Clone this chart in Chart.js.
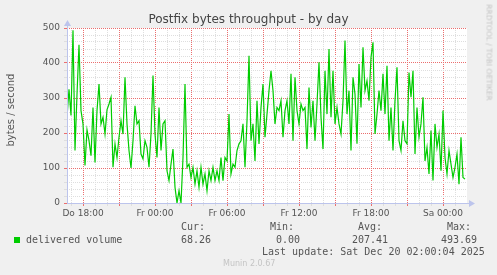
<!DOCTYPE html>
<html><head><meta charset="utf-8">
<script src="https://cdn.jsdelivr.net/npm/chart.js@4/dist/chart.umd.min.js"></script>
<style>
html,body{margin:0;padding:0;background:#F0F0F0;width:497px;height:275px;overflow:hidden}
#wrap{position:relative;width:497px;height:275px}
canvas{position:absolute;left:0;top:0}
.t{position:absolute;white-space:pre;color:#555;font-family:"DejaVu Sans Mono",monospace;font-size:10px;line-height:12px}
</style></head><body>
<div id="wrap">
<canvas id="c" width="497" height="275"></canvas>
<div class="t" style="left:0;width:497px;text-align:center;top:12px;font-family:'DejaVu Sans';font-size:12px;line-height:14px;color:#444">Postfix bytes throughput - by day</div>
<div class="t" style="left:-49.5px;width:120px;text-align:center;top:104px;font-family:'DejaVu Sans';font-size:10px;transform:rotate(-90deg);transform-origin:60px 6px">bytes / second</div>
<div class="t" style="left:439px;width:100px;text-align:center;top:48px;font-family:'DejaVu Sans';font-size:7.5px;line-height:9px;color:#C4C4C4;transform:rotate(90deg);transform-origin:50px 4.5px">RRDTOOL / TOBI OETIKER</div>
<div style="position:absolute;left:14px;top:237px;width:6px;height:6px;background:#00CC00"></div>
<div class="t" style="left:26px;top:234px">delivered volume</div>
<div id="stats"></div>
<div class="t" style="left:262px;top:246px">Last update: Sat Dec 20 02:00:04 2025</div>
<div class="t" style="left:223px;top:259px;font-family:'DejaVu Sans';font-size:8px;line-height:10px;color:#C4C4C4">Munin 2.0.67</div>
</div>
<script>
const timeLabels = ['Do 18:00','Fr 00:00','Fr 06:00','Fr 12:00','Fr 18:00','Sa 00:00'];
const labelMinutes = [1080,1440,1800,2160,2520,2880];
const yTickLabels = ['0','100','200','300','400','500'];
const startMinute = 1000;
const stepMinutes = 10;
const deliveredVolume = [
245,325,250,493.69,150,311,452,264,226,107,209,178,135,273,116,264,340,226,245,197,
266,283,302,102,169,130,188,235,197,359,226,150,100,178,278,226,235,140,126,178,
159,102,197,364,197,130,273,150,226,235,92,64,111,154,45,0,35,0,130,340,
102,111,73,102,54,92,45,102,54,83,35,92,64,102,64,92,64,130,64,130,
120,254,83,111,102,150,169,178,226,102,235,421,178,226,120,292,169,273,340,188,
254,321,378,321,226,273,264,292,188,264,292,226,369,178,359,264,226,283,264,273,
154,330,216,292,178,283,402,245,154,378,254,440,245,378,226,273,226,197,292,464,
254,321,150,359,311,169,397,273,445,321,349,292,416,459,197,254,321,264,369,254,
392,178,273,150,292,388,178,150,235,178,169,373,302,378,140,273,188,226,302,120,
159,83,207,64,226,159,197,92,264,130,83,150,111,73,102,140,54,188,73,68.26
];
const statNames = ['Cur:','Min:','Avg:','Max:'];
const statValues = ['68.26','0.00','207.41','493.69'];

const statNameX = [181,270,358,447];
const statValX = [181,276,352,441];
const st = document.getElementById('stats');
statNames.forEach((n,i)=>{
  const a=document.createElement('div');a.className='t';a.style.left=statNameX[i]+'px';a.style.top='221px';a.textContent=n;st.appendChild(a);
  const b=document.createElement('div');b.className='t';b.style.left=statValX[i]+'px';b.style.top='234px';b.textContent=statValues[i];st.appendChild(b);
});

const MAJ = 'rgb(235,110,110)', MIN = 'rgb(222,222,222)', AXIS = '#BCC4EC';
function majX(c){ return c.tick && Math.round(c.tick.value) % 180 === 0; }
function majY(c){ return c.tick && Math.round(c.tick.value) % 100 === 0; }
const bg = {
  id:'bg',
  beforeDraw(chart){
    const c=chart.ctx, a=chart.chartArea;
    c.save();c.fillStyle='#F0F0F0';c.fillRect(0,0,chart.width,chart.height);
    c.fillStyle='#FFFFFF';c.fillRect(a.left,a.top,a.right-a.left,a.bottom-a.top);c.restore();
  },
  afterDraw(chart){
    const c=chart.ctx, a=chart.chartArea;
    c.save();c.strokeStyle=AXIS;c.fillStyle=AXIS;c.lineWidth=1;
    c.beginPath();c.moveTo(a.left+0.5,a.bottom);c.lineTo(a.left+0.5,a.top-3);c.stroke();
    c.beginPath();c.moveTo(a.left-3,a.top-2);c.lineTo(a.left+4,a.top-2);c.lineTo(a.left+0.5,a.top-8);c.closePath();c.fill();
    c.beginPath();c.moveTo(a.left,a.bottom+0.5);c.lineTo(a.right+3,a.bottom+0.5);c.stroke();
    c.beginPath();c.moveTo(a.right+2,a.bottom-3);c.lineTo(a.right+2,a.bottom+4);c.lineTo(a.right+8,a.bottom+0.5);c.closePath();c.fill();
    c.restore();
  }
};

const pts = deliveredVolume.map((v,i)=>({x:startMinute+i*stepMinutes,y:v}));
new Chart(document.getElementById('c'),{
  type:'line',
  data:{datasets:[{label:'delivered volume',data:pts,borderColor:'#00CC00',borderWidth:1.2,pointRadius:0,tension:0,fill:false}]},
  options:{
    responsive:false,animation:false,devicePixelRatio:1,
    layout:{padding:{left:0,right:30,top:28,bottom:52}},
    plugins:{legend:{display:false},tooltip:{enabled:false},title:{display:false}},
    scales:{
      x:{type:'linear',min:1000,max:3000,
        afterBuildTicks(ax){const t=[];for(let m=1020;m<3000;m+=60)t.push({value:m});ax.ticks=t;},
        afterFit(s){s.height=20;},
        grid:{color:c=>majX(c)?MAJ:MIN,tickColor:c=>majX(c)?MAJ:MIN,tickLength:3,tickBorderDash:[],drawOnChartArea:true},
        border:{display:false,dash:[1,1]},
        ticks:{autoSkip:false,maxRotation:0,padding:2,color:'#555',font:{family:'DejaVu Sans',size:9},
          callback:v=>{const i=labelMinutes.indexOf(v);return i>=0?timeLabels[i]:'';}}
      },
      y:{min:0,max:500,
        afterBuildTicks(ax){const t=[];for(let v=0;v<=500;v+=20)t.push({value:v});ax.ticks=t;},
        afterFit(s){s.width=67;},
        grid:{color:c=>majY(c)?MAJ:MIN,tickColor:c=>majY(c)?MAJ:MIN,tickLength:3,tickBorderDash:[]},
        border:{display:false,dash:[1,1]},
        ticks:{autoSkip:false,padding:4,color:'#555',font:{family:'DejaVu Sans',size:9},
          callback:v=>(v%100===0)?yTickLabels[v/100]:''}
      }
    }
  },
  plugins:[bg]
});
</script>
</body></html>
